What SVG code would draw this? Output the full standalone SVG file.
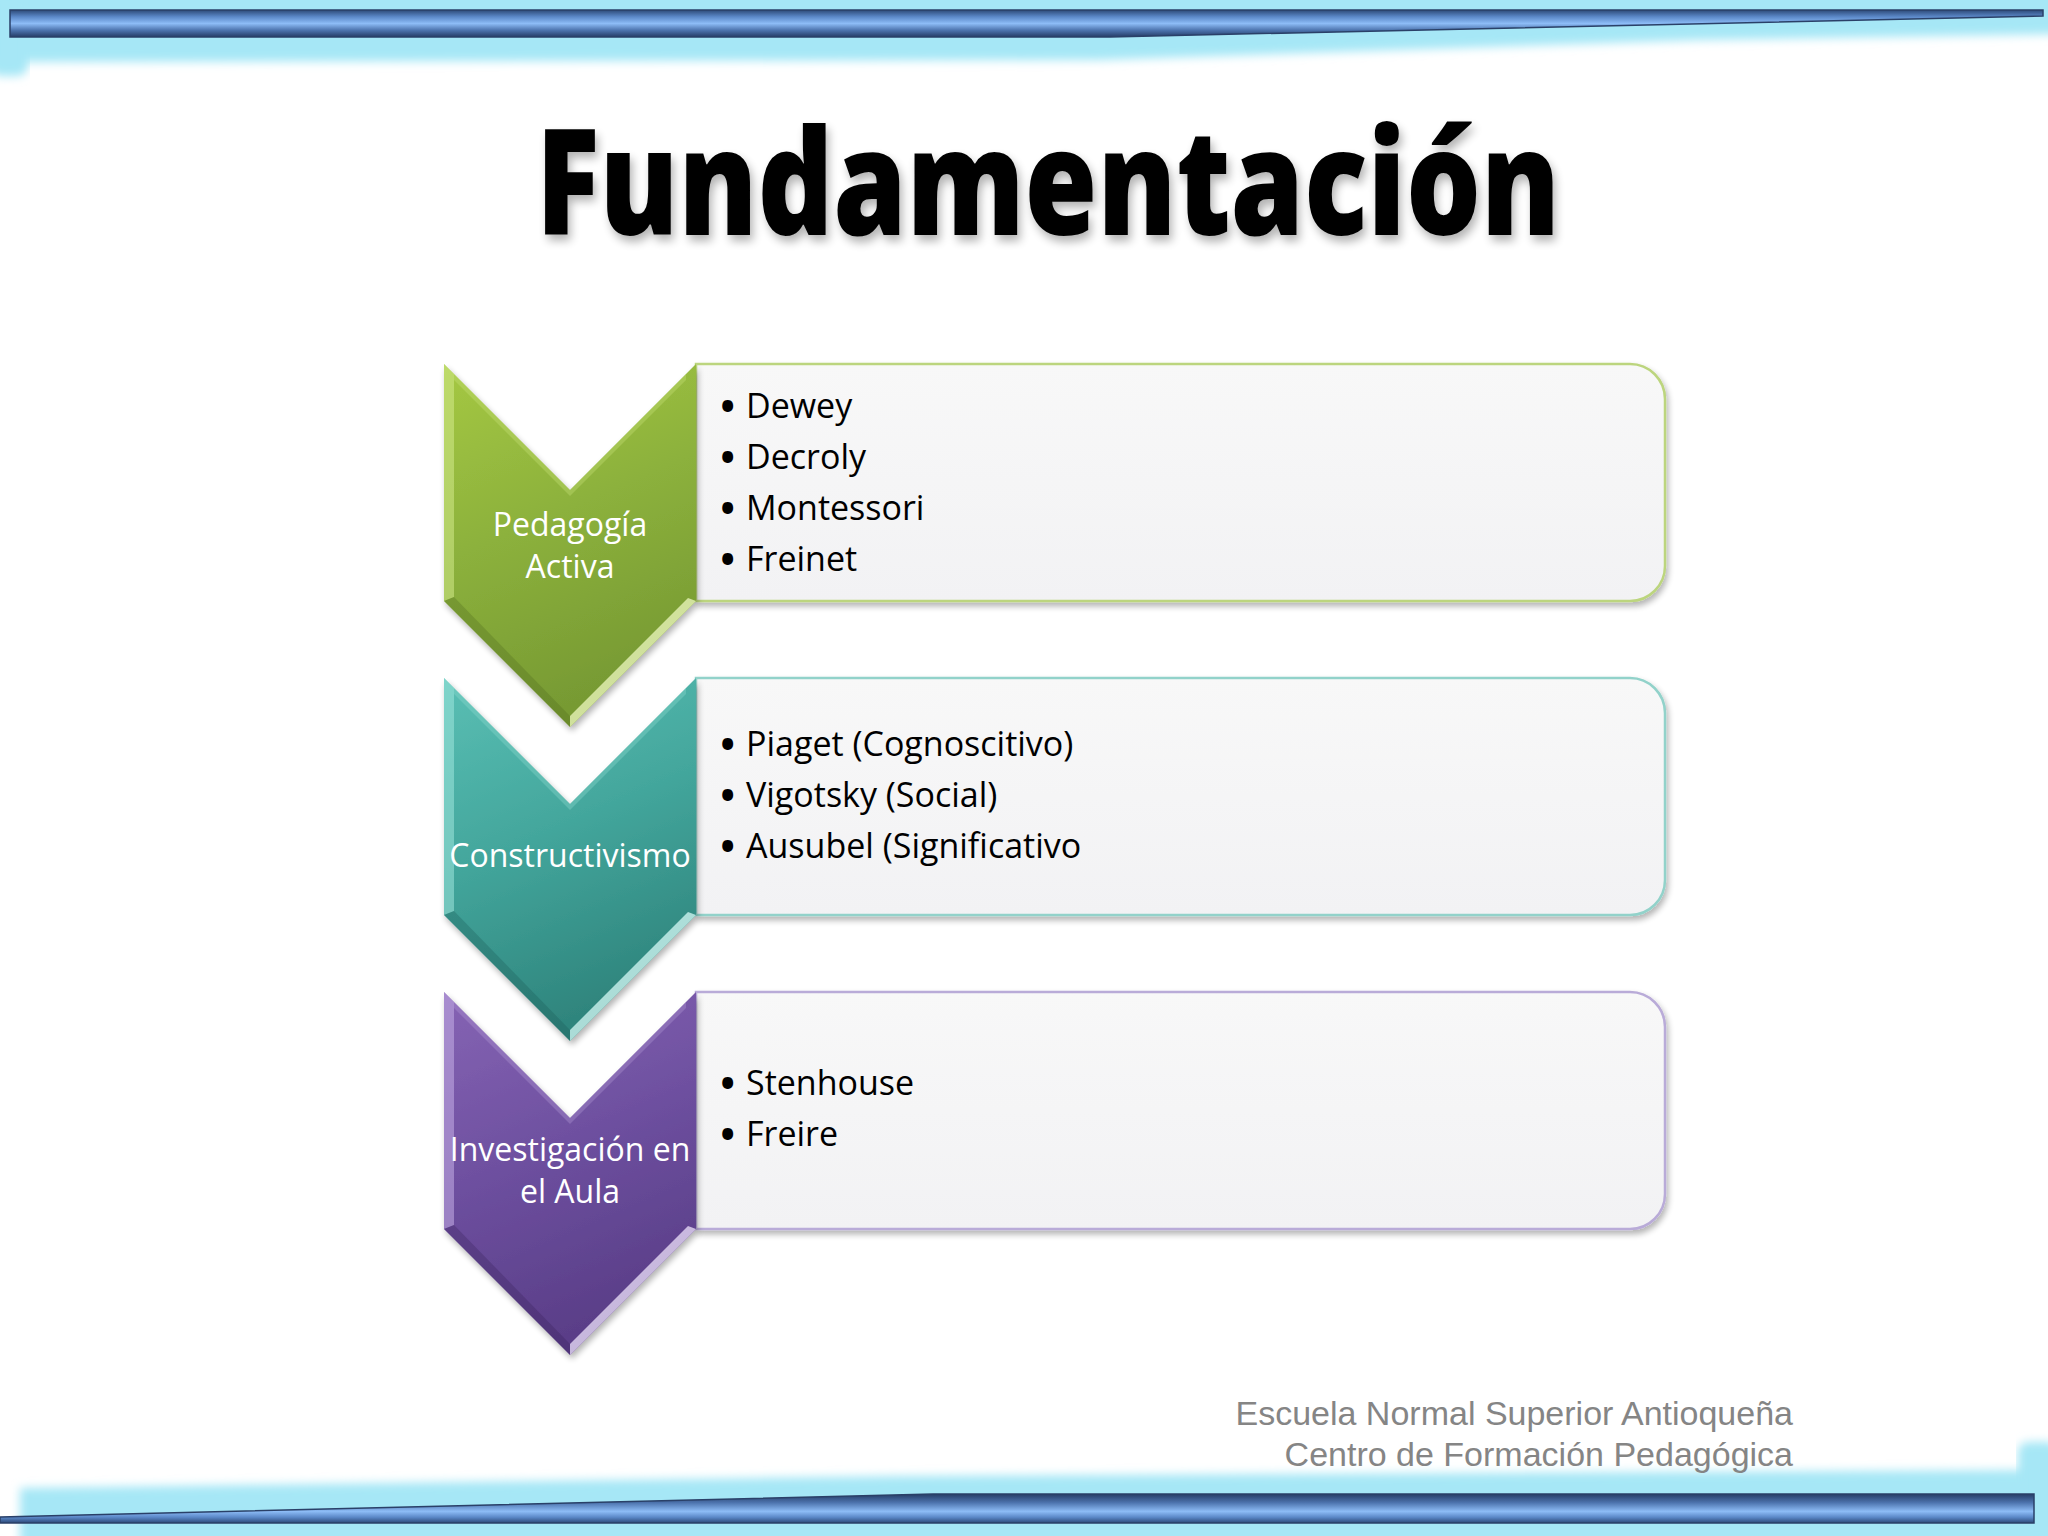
<svg xmlns="http://www.w3.org/2000/svg" width="2048" height="1536" viewBox="0 0 2048 1536">
<defs>
<style>
.lbl{font-family:"Open Sans","DejaVu Sans",sans-serif;font-size:32px;fill:#ffffff;text-anchor:middle}
.itm{font-family:"Open Sans","DejaVu Sans",sans-serif;font-size:34px;fill:#000000}
.bul{font-family:"Open Sans","DejaVu Sans",sans-serif;font-size:34px;font-weight:800;fill:#000000}
.foot{font-family:"Liberation Sans",Arial,sans-serif;font-size:34px;fill:#858585;text-anchor:end}
.box{stroke-width:2.5}
.hlL{opacity:0.55}
</style>
<linearGradient id="barTop" x1="0" y1="0" x2="0" y2="1">
<stop offset="0" stop-color="#2d4a78"/>
<stop offset="0.25" stop-color="#5b88c8"/>
<stop offset="0.5" stop-color="#8dbcf6"/>
<stop offset="0.75" stop-color="#4d74ae"/>
<stop offset="1" stop-color="#253c66"/>
</linearGradient>
<linearGradient id="barBot" x1="0" y1="0" x2="0" y2="1">
<stop offset="0" stop-color="#253c66"/>
<stop offset="0.3" stop-color="#4d74ae"/>
<stop offset="0.6" stop-color="#8dbcf6"/>
<stop offset="0.8" stop-color="#5b88c8"/>
<stop offset="1" stop-color="#2d4a78"/>
</linearGradient>
<linearGradient id="gGreen" x1="0" y1="0" x2="0.3" y2="1">
<stop offset="0" stop-color="#a5c843"/>
<stop offset="0.5" stop-color="#8cb13c"/>
<stop offset="1" stop-color="#779a33"/>
</linearGradient>
<linearGradient id="gTeal" x1="0" y1="0" x2="0.3" y2="1">
<stop offset="0" stop-color="#5abfb4"/>
<stop offset="0.5" stop-color="#43a69c"/>
<stop offset="1" stop-color="#2f857d"/>
</linearGradient>
<linearGradient id="gPurple" x1="0" y1="0" x2="0.3" y2="1">
<stop offset="0" stop-color="#8664b4"/>
<stop offset="0.5" stop-color="#6e50a0"/>
<stop offset="1" stop-color="#5a3e88"/>
</linearGradient>
<linearGradient id="boxFill" x1="0" y1="0" x2="0" y2="1">
<stop offset="0" stop-color="#f8f8f8"/>
<stop offset="1" stop-color="#f2f2f4"/>
</linearGradient>
<filter id="blur" x="-5%" y="-50%" width="110%" height="200%">
<feGaussianBlur stdDeviation="5"/>
</filter>
<filter id="shadow" x="-5%" y="-10%" width="110%" height="125%">
<feGaussianBlur in="SourceAlpha" stdDeviation="3"/>
<feOffset dx="2" dy="4"/>
<feComponentTransfer><feFuncA type="linear" slope="0.3"/></feComponentTransfer>
<feMerge><feMergeNode/><feMergeNode in="SourceGraphic"/></feMerge>
</filter>
<filter id="tshadow" x="-5%" y="-20%" width="110%" height="150%">
<feGaussianBlur in="SourceAlpha" stdDeviation="5"/>
<feOffset dx="3" dy="6"/>
<feComponentTransfer><feFuncA type="linear" slope="0.3"/></feComponentTransfer>
<feMerge><feMergeNode/><feMergeNode in="SourceGraphic"/></feMerge>
</filter>
<path id="chev" d="M444,0 L570,126 L696,0 L696,237 L570,363 L444,237 Z"/>
<path id="bevL" d="M444,0 L454,10 L454,233 L444,237 Z"/>
<path id="bevBR" d="M696,237 L570,363 L570,352 L688,234 Z"/>
<path id="bevBL" d="M444,237 L570,363 L570,352 L454,233 Z"/>
<path id="bevN" d="M454,10 L570,126 L686,10 L686,16 L570,132 L454,16 Z"/>
</defs>

<rect width="2048" height="1536" fill="#ffffff"/>

<g id="top-band">
<path d="M-10,-10 H2058 V34 L1700,40 L1100,60 L0,62 Z" fill="#a6e7f6" filter="url(#blur)"/>
<rect x="-10" y="-10" width="38" height="86" rx="10" fill="#a6e7f6" filter="url(#blur)"/>
<path d="M10,10 L2043,10 L2043,16 L1110,37 L10,37 Z" fill="url(#barTop)" stroke="#2a4068" stroke-width="1.5"/>
</g>

<g id="bottom-band">
<path d="M20,1488 L900,1476 L2058,1470 V1546 H20 Z" fill="#a6e7f6" filter="url(#blur)"/>
<rect x="2018" y="1442" width="40" height="100" rx="10" fill="#a6e7f6" filter="url(#blur)"/>
<path d="M0,1517 L933,1494 L2034,1494 L2034,1523 L0,1523 Z" fill="url(#barBot)" stroke="#2a4068" stroke-width="1.5"/>
</g>

<text x="1048" y="235" text-anchor="middle" textLength="1024" lengthAdjust="spacingAndGlyphs" font-family="'Open Sans','DejaVu Sans',sans-serif" font-weight="800" font-size="148" fill="#000000" filter="url(#tshadow)">Fundamentación</text>

<g id="connectors"/>

<g id="node-pedagogia">
<path class="box" d="M696,364 H1630 A35,35 0 0 1 1665,399 V566 A35,35 0 0 1 1630,601 H696 Z" fill="url(#boxFill)" stroke="#bcd57e" filter="url(#shadow)"/>
<g transform="translate(0,364)">
<use href="#chev" fill="url(#gGreen)" filter="url(#shadow)"/>
<use href="#bevL" fill="#d2ea8a" class="hlL"/>
<use href="#bevN" fill="#c8e27a" opacity="0.35"/>
<use href="#bevBL" fill="#4f6a1e" opacity="0.3"/>
<use href="#bevBR" fill="#eef8c0" opacity="0.75"/>
</g>
<text class="lbl" x="570" y="536">Pedagogía</text>
<text class="lbl" x="570" y="578">Activa</text>
<text class="bul" x="721" y="419">•</text><text class="itm" x="746" y="418">Dewey</text>
<text class="bul" x="721" y="470">•</text><text class="itm" x="746" y="469">Decroly</text>
<text class="bul" x="721" y="521">•</text><text class="itm" x="746" y="520">Montessori</text>
<text class="bul" x="721" y="572">•</text><text class="itm" x="746" y="571">Freinet</text>
</g>

<g id="node-constructivismo">
<path class="box" d="M696,678 H1630 A35,35 0 0 1 1665,713 V880 A35,35 0 0 1 1630,915 H696 Z" fill="url(#boxFill)" stroke="#92d2ca" filter="url(#shadow)"/>
<g transform="translate(0,678)">
<use href="#chev" fill="url(#gTeal)" filter="url(#shadow)"/>
<use href="#bevL" fill="#9fe6dc" class="hlL"/>
<use href="#bevN" fill="#8fdcd2" opacity="0.35"/>
<use href="#bevBL" fill="#1c5a55" opacity="0.3"/>
<use href="#bevBR" fill="#d6faf5" opacity="0.75"/>
</g>
<text class="lbl" x="570" y="867">Constructivismo</text>
<text class="bul" x="721" y="757">•</text><text class="itm" x="746" y="756">Piaget (Cognoscitivo)</text>
<text class="bul" x="721" y="808">•</text><text class="itm" x="746" y="807">Vigotsky (Social)</text>
<text class="bul" x="721" y="859">•</text><text class="itm" x="746" y="858">Ausubel (Significativo</text>
</g>

<g id="node-investigacion">
<path class="box" d="M696,992 H1630 A35,35 0 0 1 1665,1027 V1194 A35,35 0 0 1 1630,1229 H696 Z" fill="url(#boxFill)" stroke="#b9abd8" filter="url(#shadow)"/>
<g transform="translate(0,992)">
<use href="#chev" fill="url(#gPurple)" filter="url(#shadow)"/>
<use href="#bevL" fill="#c4aee6" class="hlL"/>
<use href="#bevN" fill="#b49ad8" opacity="0.35"/>
<use href="#bevBL" fill="#38225a" opacity="0.3"/>
<use href="#bevBR" fill="#ece2fa" opacity="0.75"/>
</g>
<text class="lbl" x="570" y="1161">Investigación en</text>
<text class="lbl" x="570" y="1203">el Aula</text>
<text class="bul" x="721" y="1096">•</text><text class="itm" x="746" y="1095">Stenhouse</text>
<text class="bul" x="721" y="1147">•</text><text class="itm" x="746" y="1146">Freire</text>
</g>

<g id="footer">
<text class="foot" x="1793" y="1425">Escuela Normal Superior Antioqueña</text>
<text class="foot" x="1793" y="1466">Centro de Formación Pedagógica</text>
</g>
</svg>
